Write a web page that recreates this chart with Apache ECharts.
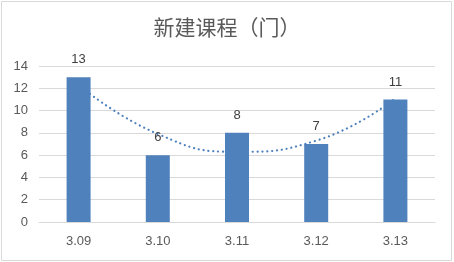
<!DOCTYPE html>
<html>
<head>
<meta charset="utf-8">
<script src="https://cdn.jsdelivr.net/npm/echarts@6/dist/echarts.min.js"></script>
<style>html,body{margin:0;padding:0;background:#fff}#c{width:454px;height:262px}</style>
</head>
<body>
<div id="c"></div>
<script>
var categories = ['3.09', '3.10', '3.11', '3.12', '3.13'];
var values = [13, 6, 8, 7, 11];
var trend = [12.3, 7.9, 6.3, 7.3, 11.1];
var yTicks = [0, 2, 4, 6, 8, 10, 12, 14];

var chart = echarts.init(document.getElementById('c'));
chart.setOption({
  animation: false,
  backgroundColor: '#fff',
  title: {
    text: '新建课程（门）',
    left: 'center',
    top: 12,
    textStyle: {fontFamily: 'Noto Sans CJK SC', fontSize: 21, fontWeight: 'normal', color: '#595959'}
  },
  graphic: [{
    type: 'rect', silent: true, z: 100,
    shape: {x: 1.5, y: 1.5, width: 450, height: 259},
    style: {fill: 'none', stroke: '#D9D9D9', lineWidth: 1}
  }],
  grid: {left: 39, right: 19, top: 66, bottom: 40},
  xAxis: {
    type: 'category',
    data: categories,
    axisLine: {show: true, lineStyle: {color: '#D9D9D9'}},
    axisTick: {show: false},
    axisLabel: {color: '#595959', fontSize: 13, margin: 13, fontFamily: 'Liberation Sans'}
  },
  yAxis: {
    type: 'value',
    min: yTicks[0], max: yTicks[yTicks.length - 1], interval: 2,
    axisLine: {show: false},
    axisTick: {show: false},
    splitLine: {lineStyle: {color: '#D9D9D9'}},
    axisLabel: {color: '#595959', fontSize: 13, margin: 11, fontFamily: 'Liberation Sans'}
  },
  series: [{
    type: 'line',
    data: trend,
    smooth: 0.5,
    symbol: 'none',
    z: 1,
    lineStyle: {color: '#4F81BD', width: 2.2, type: [0.1, 4.8], cap: 'round'}
  }, {
    type: 'bar',
    data: values,
    barWidth: 24,
    z: 3,
    itemStyle: {color: '#4F81BD'},
    label: {show: true, position: 'top', distance: 11, color: '#404040', fontSize: 13, fontFamily: 'Liberation Sans'}
  }]
});
</script>
</body>
</html>
